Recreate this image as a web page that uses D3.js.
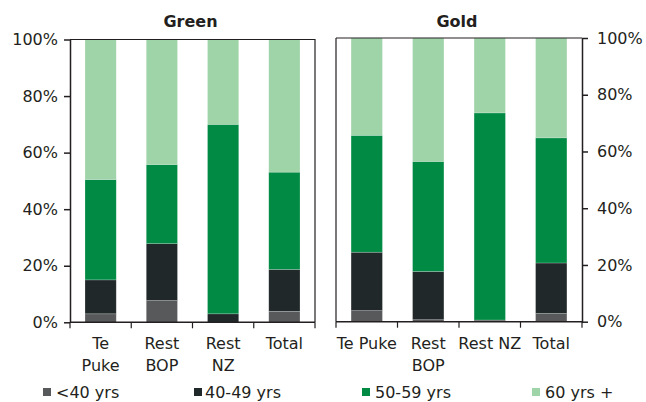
<!DOCTYPE html>
<html>
<head>
<meta charset="utf-8">
<script src="https://cdn.jsdelivr.net/npm/d3@7"></script>
<style>
  body { margin: 0; background: #fff; }
  text { font-family: "DejaVu Sans", Verdana, sans-serif; fill: #231f20; }
</style>
</head>
<body>
<main></main>
<script>
// categories and series
var categories = ['Te Puke', 'Rest BOP', 'Rest NZ', 'Total'];
var ageGroups = ['<40 yrs', '40-49 yrs', '50-59 yrs', '60 yrs +'];
var ageColors = ['#58595b', '#202829', '#008a44', '#9fd3a8'];

// Green kiwifruit growers (% of each area)
var greenUnder40 = [3.0, 7.7, 0.0, 3.9];
var green40to49 = [12.0, 20.1, 3.0, 14.8];
var green50to59 = [35.5, 28.0, 67.0, 34.4];
var green60plus = [49.5, 44.2, 30.0, 46.9];

// Gold kiwifruit growers
var goldUnder40 = [3.9, 0.7, 0.3, 2.9];
var gold40to49 = [20.6, 17.0, 0.3, 17.8];
var gold50to59 = [41.2, 38.8, 73.0, 44.1];
var gold60plus = [34.3, 43.5, 26.4, 35.2];

// tick labels
var yTicks = [0, 20, 40, 60, 80, 100];
var greenLabels = [['Te', 'Puke'], ['Rest', 'BOP'], ['Rest', 'NZ'], ['Total']];
var goldLabels = [['Te Puke'], ['Rest', 'BOP'], ['Rest NZ'], ['Total']];

var svg = d3.select('main').append('svg')
    .attr('width', 646)
    .attr('height', 402);

function drawPanel(opts) {
    var series = opts.series;
    var rows = categories.map(function (c, i) {
        var r = { cat: c };
        ageGroups.forEach(function (g, j) { r[g] = series[j][i]; });
        return r;
    });
    var stacked = d3.stack().keys(ageGroups)(rows);

    var x = d3.scaleBand()
        .domain(categories)
        .range([opts.x0, opts.x1])
        .paddingInner(0.49)
        .paddingOuter(0.245);

    var y = d3.scaleLinear()
        .domain([0, 100])
        .range([opts.y0, opts.y1]);

    var g = svg.append('g');

    // bars
    g.selectAll('.layer')
        .data(stacked)
        .enter().append('g')
        .attr('fill', function (d, i) { return ageColors[i]; })
        .selectAll('rect')
        .data(function (d) { return d; })
        .enter().append('rect')
        .attr('x', function (d) { return x(d.data.cat); })
        .attr('width', x.bandwidth())
        .attr('y', function (d) { return y(d[1]); })
        .attr('height', function (d) { return y(d[0]) - y(d[1]); })
        .attr('stroke', 'rgba(255,255,255,0.35)')
        .attr('stroke-width', 0.6);

    // frame (top + opposite side)
    var frame = d3.path();
    frame.moveTo(opts.x0, opts.y1);
    frame.lineTo(opts.x1, opts.y1);
    if (opts.side === 'left') {
        frame.lineTo(opts.x1, opts.y0);
    } else {
        frame.moveTo(opts.x0, opts.y1);
        frame.lineTo(opts.x0, opts.y0);
    }
    g.append('path')
        .attr('d', frame.toString())
        .attr('fill', 'none')
        .attr('stroke', '#231f20')
        .attr('stroke-width', 1.2);

    // y axis
    var yAxis = (opts.side === 'left' ? d3.axisLeft(y) : d3.axisRight(y))
        .tickValues(yTicks)
        .tickFormat(function (d) { return d + '%'; })
        .tickSize(6)
        .tickPadding(opts.side === 'left' ? 6 : 9)
        .tickSizeOuter(0);
    var ya = g.append('g')
        .attr('transform', 'translate(' + (opts.side === 'left' ? opts.x0 : opts.x1) + ',0)')
        .call(yAxis);
    ya.selectAll('text').attr('font-size', 16).style('font-family', '"DejaVu Sans", Verdana, sans-serif');
    ya.selectAll('line, path').attr('stroke', '#231f20').attr('stroke-width', 1.5);

    // x axis: ticks at band boundaries
    var step = x.step();
    var bounds = d3.range(categories.length + 1).map(function (i) { return opts.x0 + i * step; });
    g.append('line')
        .attr('x1', opts.x0).attr('x2', opts.x1)
        .attr('y1', opts.y0).attr('y2', opts.y0)
        .attr('stroke', '#231f20').attr('stroke-width', 1.5);
    g.selectAll('.xtick')
        .data(bounds)
        .enter().append('line')
        .attr('x1', function (d) { return d; })
        .attr('x2', function (d) { return d; })
        .attr('y1', opts.y0)
        .attr('y2', opts.y0 + 6)
        .attr('stroke', '#231f20')
        .attr('stroke-width', 1.2);

    // category labels
    var lab = g.selectAll('.xlab')
        .data(opts.labels)
        .enter().append('text')
        .attr('text-anchor', 'middle')
        .attr('font-size', 16)
        .attr('x', function (d, i) { return x(categories[i]) + x.bandwidth() / 2; })
        .attr('y', 349);
    lab.selectAll('tspan')
        .data(function (d) { return d; })
        .enter().append('tspan')
        .attr('x', function () { return d3.select(this.parentNode).attr('x'); })
        .attr('dy', function (d, i) { return i === 0 ? 0 : 22; })
        .text(function (d) { return d; });

    // title
    g.append('text')
        .attr('x', (opts.x0 + opts.x1) / 2 - 2)
        .attr('y', 27)
        .attr('text-anchor', 'middle')
        .attr('font-size', 16)
        .attr('font-weight', 'bold')
        .text(opts.title);
}

drawPanel({
    title: 'Green',
    series: [greenUnder40, green40to49, green50to59, green60plus],
    labels: greenLabels,
    x0: 70, x1: 315, y0: 322.3, y1: 39.5,
    side: 'left'
});

drawPanel({
    title: 'Gold',
    series: [goldUnder40, gold40to49, gold50to59, gold60plus],
    labels: goldLabels,
    x0: 336, x1: 582, y0: 321.7, y1: 38,
    side: 'right'
});

// legend
var legendX = [43, 194, 362, 532];
var legend = svg.selectAll('.legend')
    .data(ageGroups)
    .enter().append('g')
    .attr('transform', function (d, i) { return 'translate(' + legendX[i] + ',387)'; });

legend.append('rect')
    .attr('width', 8)
    .attr('height', 8)
    .attr('y', 1)
    .attr('fill', function (d, i) { return ageColors[i]; });

legend.append('text')
    .attr('x', function (d, i) { return i === 1 ? 11 : 13; })
    .attr('y', 11)
    .attr('font-size', 16)
    .text(function (d) { return d; });
</script>
</body>
</html>
